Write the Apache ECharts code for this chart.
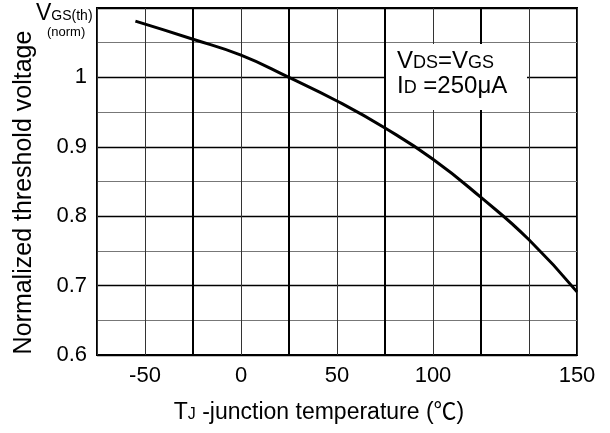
<!DOCTYPE html>
<html>
<head>
<meta charset="utf-8">
<script src="https://cdn.jsdelivr.net/npm/echarts@6/dist/echarts.min.js"></script>
<style>
    html, body { margin: 0; padding: 0; background: #fff; }
    #chart-box { width: 610px; height: 433px; }
</style>
</head>
<body>
<div id="chart-box"></div>
<script>
// 轴坐标（刻度线每格 25，最右一格标注为 150，与原图一致）
var tempAxis = [-55, -25, 0, 25, 50, 75, 100, 125, 150, 175];
var vthNorm = [1.081, 1.055, 1.032, 1.0, 0.966, 0.927, 0.882, 0.827, 0.766, 0.691];
// 加粗的竖向网格线
var majorX = [-25, 25, 75, 125];
// 横轴、纵轴刻度标签
var xTickLabels = { '-50': '-50', '0': '0', '50': '50', '100': '100', '175': '150' };
var yTickLabels = { '0.6': '0.6', '0.7': '0.7', '0.8': '0.8', '0.9': '0.9', '1': '1' };

var fontFamily = "'Liberation Sans', Arial, 'Noto Sans CJK SC', sans-serif";

var chart = echarts.init(document.getElementById('chart-box'));

var data = tempAxis.map(function(t, i) { return [t, vthNorm[i]]; });

var option = {
    animation: false,
    backgroundColor: '#fff',
    textStyle: { fontFamily: fontFamily, color: '#000' },
    grid: {
        show: true,
        left: 97,
        top: 8,
        right: 33,
        bottom: 78,
        borderColor: '#000',
        borderWidth: 2,
        backgroundColor: 'transparent'
    },
    xAxis: {
        type: 'value',
        min: -75,
        max: 175,
        interval: 25,
        axisLine: { show: false },
        axisTick: { show: false },
        splitLine: { show: true, lineStyle: { color: '#333', width: 1 } },
        axisLabel: {
            fontSize: 22,
            color: '#000',
            margin: 10,
            formatter: function(v) {
                var k = String(Math.round(v));
                return xTickLabels[k] !== undefined ? xTickLabels[k] : '';
            }
        },
        name: '{a|T}{s|J} -junction temperature (℃)',
        nameLocation: 'middle',
        nameGap: 46,
        nameTextStyle: {
            padding: [0, 36, 0, 0],
            rich: {
                a: { fontSize: 23, fontFamily: fontFamily, color: '#000', verticalAlign: 'bottom' },
                s: { fontSize: 16, fontFamily: fontFamily, color: '#000', verticalAlign: 'bottom', padding: [0, 0, 1, 0] }
            },
            fontSize: 23,
            color: '#000'
        }
    },
    yAxis: {
        type: 'value',
        min: 0.6,
        max: 1.1,
        interval: 0.1,
        axisLine: { show: false },
        axisTick: { show: false },
        splitLine: { show: true, lineStyle: { color: '#000', width: 1.3 } },
        minorTick: { show: false, splitNumber: 2 },
        minorSplitLine: { show: true, lineStyle: { color: '#777', width: 1 } },
        axisLabel: {
            fontSize: 22,
            color: '#000',
            margin: 10,
            formatter: function(v) {
                var k = String(Math.round(v * 10) / 10);
                return yTickLabels[k] !== undefined ? yTickLabels[k] : '';
            }
        },
        name: 'Normalized threshold voltage',
        nameLocation: 'middle',
        nameGap: 60,
        nameTextStyle: { fontSize: 25, color: '#000', padding: [0, 22, 0, 0] }
    },
    graphic: [{
        type: 'text',
        left: 36,
        top: 2,
        style: {
            text: '{a|V}{b|GS(th)}',
            rich: {
                a: { fontSize: 23, fontFamily: fontFamily, fill: '#000', verticalAlign: 'bottom' },
                b: { fontSize: 14, fontFamily: fontFamily, fill: '#000', verticalAlign: 'bottom', padding: [0, 0, 2, 0] }
            }
        }
    }, {
        type: 'text',
        left: 47,
        top: 26,
        style: { text: '(norm)', fontSize: 13, fontFamily: fontFamily, fill: '#000' }
    }, {
        type: 'rect',
        left: 386,
        top: 44,
        z: 10,
        shape: { width: 141, height: 66 },
        style: { fill: '#fff' }
    }, {
        type: 'text',
        left: 397,
        top: 49,
        z: 11,
        style: {
            text: '{a|V}{s|DS}{a|=V}{s|GS}\n{a|I}{s|D}{a| =250μA}',
            rich: {
                a: { fontSize: 24, fontFamily: fontFamily, fill: '#000', verticalAlign: 'bottom', lineHeight: 25 },
                s: { fontSize: 18, fontFamily: fontFamily, fill: '#000', verticalAlign: 'bottom', lineHeight: 25, padding: [0, 0, 1, 0] }
            }
        }
    }],
    series: [{
        type: 'line',
        data: data,
        smooth: true,
        symbol: 'none',
        lineStyle: { color: '#000', width: 3 },
        z: 5,
        markLine: {
            silent: true,
            symbol: 'none',
            label: { show: false },
            lineStyle: { color: '#000', width: 2, type: 'solid' },
            data: majorX.map(function(x) { return { xAxis: x }; })
        }
    }]
};

chart.setOption(option);
</script>
</body>
</html>
